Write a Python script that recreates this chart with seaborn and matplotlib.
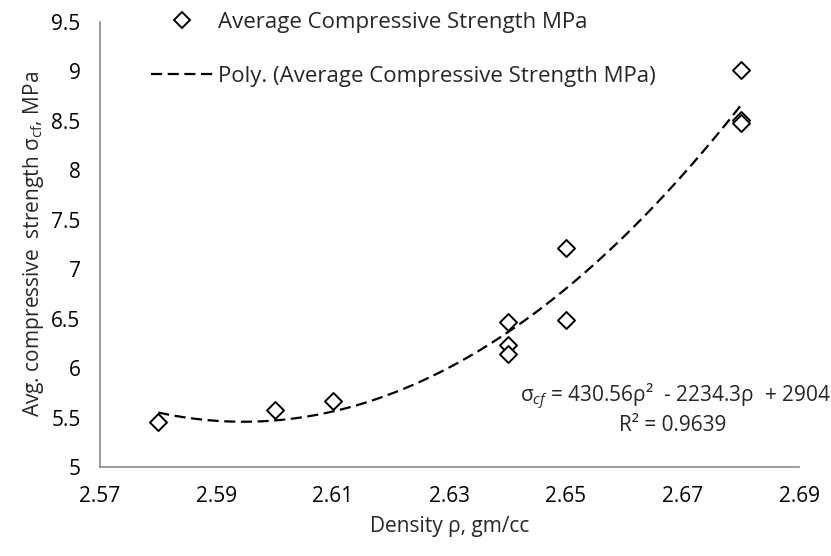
import numpy as np
import pandas as pd
import matplotlib
matplotlib.use("Agg")
import matplotlib.pyplot as plt
from matplotlib.lines import Line2D
import seaborn as sns

# Data
density = [2.58, 2.60, 2.61, 2.64, 2.64, 2.64, 2.65, 2.65, 2.68, 2.68, 2.68]
strength = [5.46, 5.58, 5.67, 6.47, 6.23, 6.14, 7.21, 6.49, 9.01, 8.51, 8.48]
x_ticks = [2.57, 2.59, 2.61, 2.63, 2.65, 2.67, 2.69]
y_ticks = [5, 5.5, 6, 6.5, 7, 7.5, 8, 8.5, 9, 9.5]
y_tick_labels = ["5", "5.5", "6", "6.5", "7", "7.5", "8", "8.5", "9", "9.5"]
series_label = "Average Compressive Strength MPa"
trend_label = "Poly. (Average Compressive Strength MPa)"
equation = r"σ$_{\mathit{cf}}$ = 430.56ρ²  - 2234.3ρ  + 2904"
r2_text = "R² = 0.9639"

sns.set_theme(style="white")
FONT = "Open Sans"
plt.rcParams["font.family"] = [FONT, "DejaVu Sans"]
plt.rcParams["mathtext.fontset"] = "custom"
plt.rcParams["mathtext.rm"] = FONT
plt.rcParams["mathtext.it"] = FONT + ":italic"

df = pd.DataFrame({"density": density, "strength": strength})

# quadratic trendline fitted to the data
coef = np.polyfit(df["density"], df["strength"], 2)
xf = np.linspace(min(density), max(density), 200)
fit = pd.DataFrame({"density": xf, "strength": np.polyval(coef, xf)})

fig = plt.figure(figsize=(8.31, 5.56), dpi=100)
ax = fig.add_axes([0.1203, 0.160, 0.8412, 0.8004])

sns.lineplot(data=fit, x="density", y="strength", ax=ax, color="black",
             linewidth=1.6, dashes=False, legend=False)
ax.lines[-1].set_dashes((5, 2.5))
sns.scatterplot(data=df, x="density", y="strength", ax=ax, marker="D", s=75,
                facecolor="white", edgecolor="black", linewidth=1.4, zorder=3,
                legend=False)

ax.set_xlim(2.57, 2.69)
ax.set_ylim(5, 9.5)
ax.set_xticks(x_ticks)
ax.set_xticklabels([f"{v:.2f}" for v in x_ticks])
ax.set_yticks(y_ticks)
ax.set_yticklabels(y_tick_labels)

for s in ["top", "right"]:
    ax.spines[s].set_visible(False)
for s in ["left", "bottom"]:
    ax.spines[s].set_color("#8c8c8c")
    ax.spines[s].set_linewidth(1.2)
ax.tick_params(axis="both", direction="out", length=6, width=1.2,
               color="#8c8c8c", labelsize=15, labelcolor="black")
ax.tick_params(axis="x", pad=8)
ax.tick_params(axis="y", pad=8)

ax.set_xlabel("Density ρ, gm/cc", fontsize=15, labelpad=6)
ax.set_ylabel(r"Avg. compressive  strength σ$_{\mathrm{cf}}$, MPa", fontsize=15, labelpad=4)

handles = [
    Line2D([], [], marker="D", linestyle="none", markersize=8,
           markerfacecolor="white", markeredgecolor="black", markeredgewidth=1.4),
    Line2D([], [], color="black", linewidth=1.6, dashes=(5, 2.5)),
]
leg = ax.legend(handles, [series_label, trend_label], loc="upper left",
                bbox_to_anchor=(0.045, 1.068), frameon=False, fontsize=16,
                handlelength=2.75, handletextpad=0.25, labelspacing=1.5)

fig.text(0.9995, 0.286, equation, ha="right", va="center", fontsize=15)
fig.text(0.81, 0.234, r2_text, ha="center", va="center", fontsize=15)

fig.savefig("out.png", dpi=100)
